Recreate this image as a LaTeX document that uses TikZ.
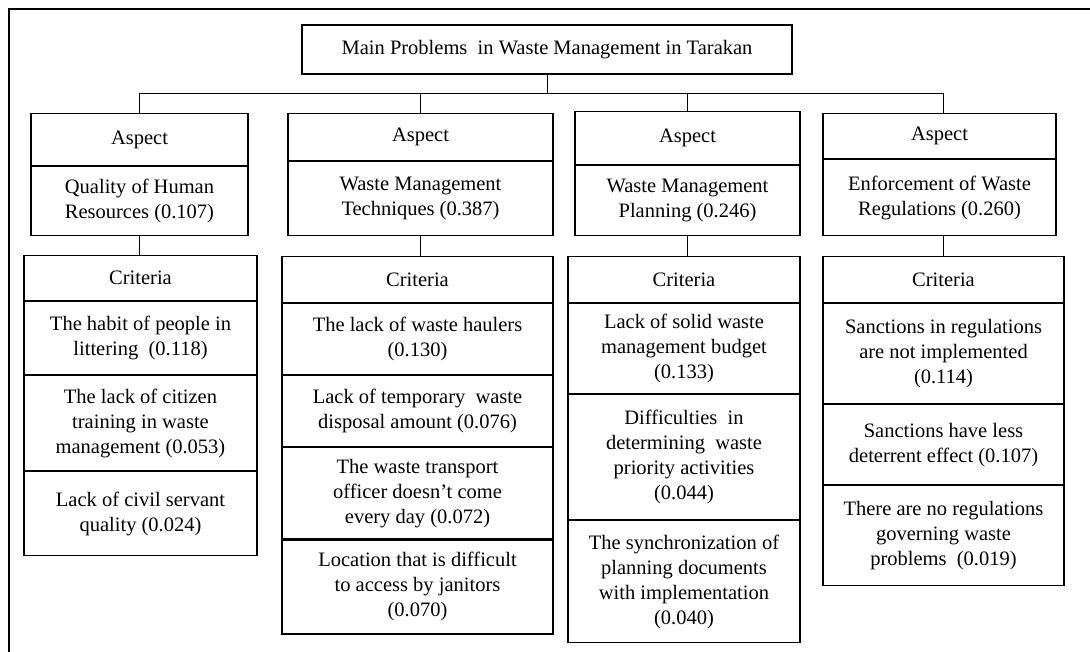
\documentclass[tikz,border=0pt]{standalone}
\usepackage{fontspec}
\setmainfont{Liberation Serif}
\usetikzlibrary{positioning}
\tikzset{
    cell/.style={draw,line width=1.1pt,align=center,inner sep=0pt,font=\fontsize{20.5}{25}\selectfont},
    link/.style={line width=1pt},
}

\begin{document}
\begin{tikzpicture}[x=1pt,y=-1pt]
		\useasboundingbox (0,0) rectangle (1090,652);
		\draw[line width=2.4pt] (9,652) -- (9,9) -- (1090,9);

		\node[cell,minimum width=490pt,minimum height=49pt] (title) at (547,49.5) {Main Problems\ \ in Waste Management in Tarakan};
		\coordinate (bus) at (0,94);

		% aspects
		\node[cell,anchor=north,minimum width=217pt,minimum height=52pt] (a1h) at (139.5,113) {Aspect};
		\node[cell,minimum width=217pt,minimum height=69pt] (a1) [below=0pt of a1h] {Quality of Human\\Resources (0.107)};
		\node[cell,anchor=north,minimum width=265pt,minimum height=47pt] (a2h) at (420.5,113) {Aspect};
		\node[cell,minimum width=265pt,minimum height=74pt] (a2) [below=0pt of a2h] {Waste Management\\Techniques (0.387)};
		\node[cell,anchor=north,minimum width=225pt,minimum height=53pt] (a3h) at (687.5,111) {Aspect};
		\node[cell,minimum width=225pt,minimum height=70pt] (a3) [below=0pt of a3h] {Waste Management\\Planning (0.246)};
		\node[cell,anchor=north,minimum width=233pt,minimum height=45pt] (a4h) at (939.5,113) {Aspect};
		\node[cell,minimum width=233pt,minimum height=76pt] (a4) [below=0pt of a4h] {Enforcement of Waste\\Regulations (0.260)};

		% criteria
		\node[cell,anchor=north,minimum width=233pt,minimum height=45pt] (c1h) at (140.5,255) {Criteria};
		\node[cell,minimum width=233pt,minimum height=73pt] (c11) [below=0pt of c1h] {The habit of people in\\littering\ \ (0.118)};
		\node[cell,minimum width=233pt,minimum height=95pt] (c12) [below=0pt of c11] {The lack of citizen\\training in waste\\management (0.053)};
		\node[cell,minimum width=233pt,minimum height=84pt] (c13) [below=0pt of c12] {Lack of civil servant\\quality (0.024)};

		\node[cell,anchor=north,minimum width=271pt,minimum height=46pt] (c2h) at (417.5,256) {Criteria};
		\node[cell,minimum width=271pt,minimum height=71pt] (c21) [below=0pt of c2h] {The lack of waste haulers\\(0.130)};
		\node[cell,minimum width=271pt,minimum height=71pt] (c22) [below=0pt of c21] {Lack of temporary\ \ waste\\disposal amount (0.076)};
		\node[cell,minimum width=271pt,minimum height=91pt] (c23) [below=0pt of c22] {The waste transport\\officer doesn't come\\every day (0.072)};
		\node[cell,minimum width=271pt,minimum height=94pt] (c24) [below=0pt of c23] {Location that is difficult\\to access by janitors\\(0.070)};

		\node[cell,anchor=north,minimum width=232pt,minimum height=46pt] (c3h) at (684,256) {Criteria};
		\node[cell,minimum width=232pt,minimum height=90pt] (c31) [below=0pt of c3h] {Lack of solid waste\\management budget\\(0.133)};
		\node[cell,minimum width=232pt,minimum height=125pt] (c32) [below=0pt of c31] {Difficulties\ \ in\\determining\ \ waste\\priority activities\\(0.044)};
		\node[cell,minimum width=232pt,minimum height=122pt] (c33) [below=0pt of c32] {The synchronization of\\planning documents\\with implementation\\(0.040)};

		\node[cell,anchor=north,minimum width=241pt,minimum height=46pt] (c4h) at (943.5,256) {Criteria};
		\node[cell,minimum width=241pt,minimum height=100pt] (c41) [below=0pt of c4h] {Sanctions in regulations\\are not implemented\\(0.114)};
		\node[cell,minimum width=241pt,minimum height=80pt] (c42) [below=0pt of c41] {Sanctions have less\\deterrent effect (0.107)};
		\node[cell,minimum width=241pt,minimum height=100pt] (c43) [below=0pt of c42] {There are no regulations\\governing waste\\problems\ \ (0.019)};

		% tree lines
		\draw[link] (title.south) -- (title.south |- bus);
		\draw[link] (a1h.north) |- (bus -| c4h.north) -- (c4h.north |- a4h.north);
		\draw[link] (a2h.north) -- (a2h.north |- bus);
		\draw[link] (a3h.north) -- (a3h.north |- bus);
		\draw[link] (a1.south) -- (a1.south |- c1h.north);
		\draw[link] (a2.south) -- (a2.south |- c2h.north);
		\draw[link] (a3.south) -- (a3.south |- c3h.north);
		\draw[link] (c4h.north |- a4.south) -- (c4h.north);
\end{tikzpicture}
\end{document}
